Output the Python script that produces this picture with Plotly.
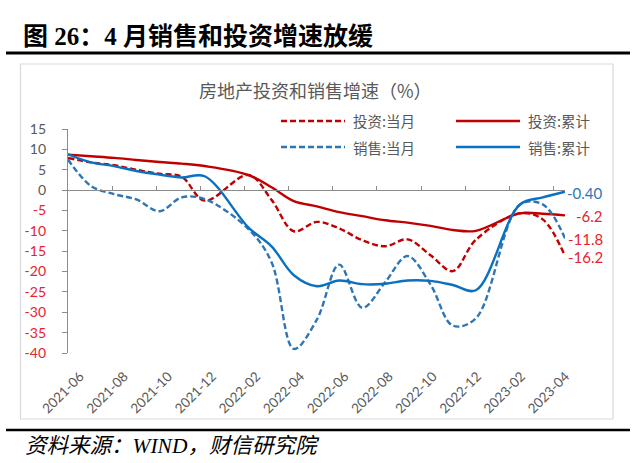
import plotly.graph_objects as go
import pandas as pd

# ---------------- data ----------------
dates = ["2021-06-30", "2021-07-31", "2021-08-31", "2021-09-30", "2021-10-31", "2021-11-30",
         "2021-12-31", "2022-02-28", "2022-03-31", "2022-04-30", "2022-05-31", "2022-06-30",
         "2022-07-31", "2022-08-31", "2022-09-30", "2022-10-31", "2022-11-30", "2022-12-31",
         "2023-02-28", "2023-03-31", "2023-04-30"]
inv_month = [7.9, 6.8, 6.1, 5.0, 4.0, 3.3, -2.6, 3.7, -2.4, -10.1, -7.8, -9.4,
             -12.3, -13.8, -12.1, -16.0, -19.9, -12.2, -5.7, -7.2, -16.2]
inv_cum = [8.7, 8.3, 7.9, 7.4, 6.9, 6.5, 5.9, 3.7, 0.7, -2.7, -4.0, -5.4,
           -6.4, -7.4, -8.0, -8.8, -9.8, -10.0, -5.7, -5.8, -6.2]
sales_month = [7.5, 1.0, -1.0, -2.3, -5.2, -1.8, -2.2, -9.6, -17.7, -39.0, -31.8, -18.3,
               -28.9, -22.6, -16.2, -23.2, -33.3, -31.5, -3.6, -3.5, -11.8]
sales_cum = [8.8, 6.8, 5.9, 4.7, 3.8, 3.1, 3.4, -9.2, -13.8, -20.9, -23.6, -22.2,
             -23.1, -23.0, -22.2, -22.3, -23.3, -24.6, -3.6, -1.8, -0.4]

series_names = ["投资:当月", "投资:累计", "销售:当月", "销售:累计"]
tick_labels = ["2021-06", "2021-08", "2021-10", "2021-12", "2022-02", "2022-04",
               "2022-06", "2022-08", "2022-10", "2022-12", "2023-02", "2023-04"]
y_ticks = [15, 10, 5, 0, -5, -10, -15, -20, -25, -30, -35, -40]
end_labels = ["-16.2", "-6.2", "-11.8", "-0.40"]

title_text = "图 26：4 月销售和投资增速放缓"
chart_title = "房地产投资和销售增速（%）"
source_text = "资料来源：WIND，财信研究院"

# ---------------- style ----------------
RED = "#C00000"
BLUE = "#0A70C0"
BLUE_D = "#2E75B6"
LABEL_RED = "#E8232A"
GRAY_TXT = "#595959"
AXIS = "#8C8C8C"
LATIN = "Lato, 'Noto Sans', 'Noto Sans CJK SC', sans-serif"
CJK = "'Noto Sans CJK SC', 'Noto Sans', sans-serif"
SERIF = "'Liberation Serif', 'Noto Sans CJK SC', serif"

Y_MIN, Y_MAX = -40, 15
start = pd.Timestamp(dates[0])
tick_step_days = 59.4
tick_positions = [(start + pd.Timedelta(days=tick_step_days * k)).strftime("%Y-%m-%d %H:%M")
                  for k in range(len(tick_labels))]
y_ticktext = [f"<span style='color:{LABEL_RED}'>{v}</span>" if v < 0 else str(v) for v in y_ticks]

# paper-coordinate helpers (plot area: 68..565 px horizontally, 129..353 px vertically)
L, R, T, B = 68, 565, 129, 353
def px(x):
    return (x - L) / (R - L)
def py(y):
    return (B - y) / (B - T)

fig = go.Figure()
trace_specs = [
    (inv_month, RED, "6px,3px"),
    (inv_cum, RED, "solid"),
    (sales_month, BLUE_D, "6px,3px"),
    (sales_cum, BLUE, "solid"),
]
for name, (vals, col, dash) in zip(series_names, trace_specs):
    fig.add_trace(go.Scatter(
        x=dates, y=vals, name=name, mode="lines", showlegend=False,
        line=dict(color=col, width=2.4, dash=dash, shape="spline", smoothing=1),
        hoverinfo="skip"))

# helper trace so that the zero-line axis is drawn
fig.add_trace(go.Scatter(x=[], y=[], xaxis="x2", showlegend=False, hoverinfo="skip"))

# end-of-line value labels
end_series = [inv_month, inv_cum, sales_month, sales_cum]
end_colors = [LABEL_RED, LABEL_RED, LABEL_RED, BLUE_D]
for vals, txt, col in zip(end_series, end_labels, end_colors):
    fig.add_annotation(x=dates[-1], y=vals[-1], text=txt, showarrow=False,
                       xanchor="right", yanchor="middle", xshift=40, yshift=-1,
                       font=dict(size=15, color=col, family=LATIN))

shapes = [
    dict(type="rect", xref="paper", yref="paper", x0=px(20.5), x1=px(613), y0=py(419), y1=py(64),
         line=dict(color="#D9D9D9", width=1.2), fillcolor="rgba(0,0,0,0)", layer="below"),
    dict(type="line", xref="paper", yref="paper", x0=px(6), x1=px(630), y0=py(53), y1=py(53),
         line=dict(color="black", width=3)),
    dict(type="line", xref="paper", yref="paper", x0=px(6), x1=px(630), y0=py(430), y1=py(430),
         line=dict(color="black", width=2.5)),
]

# legend (2 x 2 layout drawn with the trace styles)
for i, (name, (vals, col, dash)) in enumerate(zip(series_names, trace_specs)):
    row, colidx = divmod(i, 2)
    x0 = 281 + colidx * 175
    yy = 121 + row * 26
    shapes.append(dict(type="line", xref="paper", yref="paper", x0=px(x0), x1=px(x0 + 64),
                       y0=py(yy), y1=py(yy), line=dict(color=col, width=2.4, dash=dash)))
    fig.add_annotation(xref="paper", yref="paper", x=px(x0 + 70), y=py(yy), xanchor="left",
                       yanchor="middle", text=name, showarrow=False,
                       font=dict(size=14.5, color=GRAY_TXT, family=CJK))

fig.add_annotation(xref="paper", yref="paper", x=px(21), y=py(37), xanchor="left", yanchor="middle",
                   text=f"<b>{title_text}</b>", showarrow=False,
                   font=dict(size=25, color="black", family=SERIF))
fig.add_annotation(xref="paper", yref="paper", x=px(197), y=py(90), xanchor="left", yanchor="middle",
                   text=chart_title, showarrow=False,
                   font=dict(size=18, color=GRAY_TXT, family=CJK))
fig.add_annotation(xref="paper", yref="paper", x=px(23), y=py(446), xanchor="left", yanchor="middle",
                   text=f"<i>{source_text}</i>", showarrow=False,
                   font=dict(size=21.5, color="black", family=SERIF))

zero_pos = (0 - Y_MIN) / (Y_MAX - Y_MIN)

fig.update_layout(
    width=640, height=463,
    margin=dict(l=L, r=640 - R, t=T, b=463 - B, autoexpand=False),
    plot_bgcolor="white", paper_bgcolor="white",
    shapes=shapes,
    showlegend=False,
    xaxis=dict(type="date", range=[dates[0], dates[-1]], tickvals=tick_positions, ticktext=tick_labels,
               tickangle=-45, showline=False, ticks="", showgrid=False, zeroline=False,
               ticklabelstandoff=12, ticklabelshift=12, automargin=False,
               tickfont=dict(size=13.5, color=GRAY_TXT, family=LATIN)),
    xaxis2=dict(type="date", range=[dates[0], dates[-1]], overlaying="x", anchor="free", position=zero_pos,
                side="bottom", showline=True, linecolor=AXIS, linewidth=1.3, ticks="inside", ticklen=4,
                tickcolor=AXIS, tickwidth=1.3, tickvals=tick_positions, showticklabels=False,
                showgrid=False, zeroline=False),
    yaxis=dict(range=[Y_MIN, Y_MAX], tickvals=y_ticks, ticktext=y_ticktext, ticks="outside", ticklen=5,
               tickcolor=AXIS, tickwidth=1.3, showline=True, linecolor=AXIS, linewidth=1.3,
               showgrid=False, zeroline=False, ticklabelstandoff=13, automargin=False,
               tickfont=dict(size=14, color=GRAY_TXT, family=LATIN)),
)

fig.write_html("out.html", config={"displayModeBar": False},
               post_script="document.body.style.margin='0';document.body.style.overflow='hidden';")
